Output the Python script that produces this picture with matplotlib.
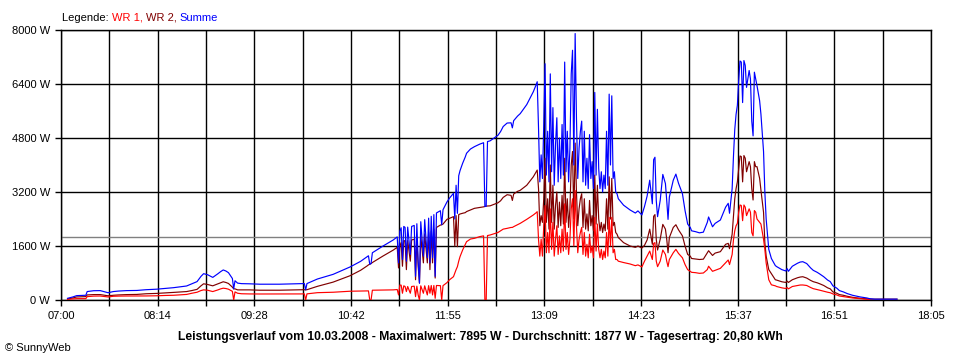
import numpy as np
import matplotlib
matplotlib.use("Agg")
import matplotlib.pyplot as plt

plt.rcParams['font.family'] = ['Liberation Sans', 'DejaVu Sans']
plt.rcParams['font.size'] = 8

nan = np.nan

# Messzeitpunkte und Leistung der beiden Wechselrichter (W)
zeit = [
    "07:05", "07:09", "07:12", "07:19", "07:20", "07:25", "07:30", "07:36", "07:40", "07:44",
    "07:50", "07:58", "08:05", "08:13", "08:20", "08:26", "08:36", "08:40", "08:44", "08:47",
    "08:49", "08:52", "08:56", "09:00", "09:02", "09:04", "09:06", "09:08", "09:11", "09:12",
    "09:13", "09:15", "09:18", "09:24", "09:32", "09:47", "10:03", "10:06", "10:07", "10:08",
    "10:16", "10:28", "10:41", "10:49", "10:54", "10:55", "10:56", "10:57", "10:58", "11:06",
    "11:14", "11:17", "11:18", "11:19", "11:20", "11:21", "11:22", "11:23", "11:24", "11:25",
    "11:27", "11:28", "11:30", "11:31", "11:32", "11:33", "11:34", "11:35", "11:37", "11:38",
    "11:40", "11:41", "11:42", "11:43", "11:44", "11:45", "11:46", "11:47", "11:50", "11:51",
    "11:52", "11:55", "11:57", "12:00", "12:01", "12:02", "12:03", "12:04", "12:05", "12:07",
    "12:09", "12:10", "12:13", "12:16", "12:20", "12:23", "12:24", "12:25", "12:26", "12:28",
    "12:32", "12:34", "12:36", "12:38", "12:41", "12:44", "12:45", "12:46", "12:49", "12:51",
    "12:56", "13:01", "13:03", "13:04",
    "13:05", "13:06", "13:07", "13:08", "13:09", "13:10", "13:11", "13:12", "13:13", "13:14",
    "13:15", "13:16", "13:17", "13:18", "13:19", "13:20", "13:21", "13:22", "13:23", "13:24",
    "13:25", "13:26", "13:27", "13:28", "13:29", "13:30", "13:31", "13:32", "13:33", "13:34",
    "13:35", "13:36", "13:37", "13:38", "13:39", "13:40", "13:41", "13:42", "13:43", "13:44",
    "13:45", "13:46", "13:47", "13:48", "13:49", "13:50", "13:51", "13:52", "13:53", "13:54",
    "13:55", "13:56", "13:57", "13:58", "13:59", "14:00", "14:01", "14:02", "14:03", "14:04",
    "14:05", "14:06",
    "14:10", "14:15", "14:19", "14:21", "14:24", "14:26", "14:28", "14:30", "14:32", "14:33",
    "14:34", "14:35", "14:36", "14:38", "14:40", "14:42", "14:43", "14:44", "14:45", "14:48",
    "14:50", "14:52", "14:55", "14:57", "14:59", "15:01", "15:02", "15:05", "15:08", "15:11",
    "15:14", "15:15", "15:18", "15:20", "15:24", "15:28", "15:30", "15:31", "15:33", "15:34",
    "15:35", "15:36", "15:37", "15:38", "15:39", "15:40", "15:41", "15:42", "15:43", "15:44",
    "15:46", "15:47", "15:48", "15:49", "15:50", "15:51", "15:52", "15:54", "15:55", "15:57",
    "15:58", "15:59", "16:01", "16:03", "16:06", "16:07", "16:11", "16:14", "16:15", "16:16",
    "16:19", "16:23", "16:25", "16:27", "16:30", "16:33", "16:35", "16:38", "16:40", "16:43",
    "16:46", "16:48", "16:50", "16:53", "16:55", "16:58", "17:01", "17:05", "17:11", "17:16",
    "17:18", "17:22", "17:39",
]

wr1 = [
    20, 30, 40, 40, 100, 115, 118, 90, 110, 115,
    118, 118, 120, 125, 135, 140, 165, 200, 230, 280,
    300, 290, 250, 300, 330, 350, 340, 320, 257, 0,
    240, 200, 185, 180, 178, 178, 180, 182, 0, 182,
    217, 230, 260, 265, 270, 270, 0, 0, 290, 296,
    300, 310, 150, 444, 440, 200, 420, 400, 250, 400,
    200, 400, 410, 100, 410, 150, 0, 420, 200, 420,
    150, 425, 200, 430, 150, 430, 50, 430, 425, 0,
    425, 514, 600, 691, 800, 900, 988, 1150, 1284, 1481,
    1650, 1728, 1807, 1827, 1877, 1900, 0, 0, 1910, 1926,
    1975, 2000, 2050, 2100, 2123, 2150, 2150, 2173, 2230, 2271,
    2390, 2519, 2580, 2617,
    1800, 1300, 1800, 1300, 2200, 2800, 1400, 2000, 1400, 2700,
    1500, 2300, 1300, 1800, 2200, 1350, 1900, 1400, 2100, 1450,
    2850, 1500, 2000, 1350, 1800, 2700, 3000, 1600, 3245, 2200,
    1400, 1800, 2000, 2150, 1350, 2000, 1300, 1650, 1250, 1950,
    1400, 1600, 1250, 2450, 1450, 2250, 1500, 1250, 1500, 1200,
    1450, 1250, 2000, 1300, 2450, 1600, 2450, 1400, 1500, 1200,
    1200, 1150,
    1110, 1067, 1017, 1040, 980, 1150, 1300, 1450, 1200, 1679,
    1700, 1150, 988, 1150, 1481, 1350, 1150, 988, 1200, 1400,
    1500, 1380, 1250, 1050, 900, 850, 820, 810, 790, 800,
    900, 1000, 850, 880, 938, 1100, 1185, 1050, 1350, 1778,
    2050, 2200, 2271, 2600, 2815, 2800, 2350, 2815, 2750, 2500,
    2700, 2600, 2000, 1900, 2650, 2600, 2400, 2300, 2250, 1800,
    1500, 1100, 600, 450, 420, 400, 360, 340, 370, 330,
    400, 430, 444, 445, 430, 370, 336, 310, 290, 260,
    230, 215, 180, 150, 118, 100, 80, 60, 40, 25,
    15, nan, nan,
]

wr2 = [
    30, 60, 90, 100, 150, 160, 160, 125, 140, 150,
    160, 165, 185, 195, 210, 225, 250, 280, 315, 420,
    480, 460, 420, 480, 510, 540, 520, 490, 380, 330,
    330, 300, 300, 300, 290, 290, 305, 305, 300, 305,
    405, 530, 720, 880, 1010, 1040, 1060, 1080, 1110, 1300,
    1480, 1560, 950, 1600, 1700, 1000, 1760, 1750, 900, 1760,
    1150, 1780, 1800, 600, 1850, 1000, 500, 1900, 1100, 1960,
    1100, 2000, 900, 2050, 1100, 2100, 650, 2150, 2220, 2230,
    2250, 2390, 2420, 2470, 1600, 2500, 1580, 2530, 2548, 2570,
    2588, 2620, 2667, 2716, 2740, 2760, 2770, 2780, 2785, 2790,
    2850, 2880, 2940, 3040, 3120, 3100, 2950, 3140, 3220, 3250,
    3400, 3650, 3780, 3850,
    3300, 2200, 2500, 2300, 3000, 4200, 2300, 3000, 2100, 4000,
    2300, 3400, 2100, 2800, 3200, 2150, 2900, 2200, 3100, 2250,
    4200, 2300, 3000, 2150, 2700, 4000, 4400, 2400, 4650, 3200,
    2200, 2700, 3000, 3150, 2150, 3000, 2100, 2550, 2050, 2950,
    2200, 2500, 2050, 3700, 2250, 3400, 2400, 2050, 2300, 2000,
    2250, 2050, 3000, 2100, 3650, 2400, 3600, 2200, 2300, 2000,
    1950, 1850,
    1700, 1600, 1560, 1600, 1540, 1620, 1778, 2100, 1650, 2480,
    2530, 1800, 1481, 1800, 2240, 2100, 1800, 1400, 1850, 2150,
    2230, 2080, 1900, 1600, 1350, 1300, 1230, 1215, 1200, 1210,
    1400, 1460, 1320, 1390, 1432, 1650, 1679, 1520, 1950, 2470,
    3000, 3300, 3500, 3900, 4267, 4250, 3500, 4280, 4200, 3800,
    4100, 3950, 3300, 2963, 4100, 3950, 3950, 3605, 3259, 2600,
    1700, 1300, 900, 780, 600, 590, 540, 520, 560, 520,
    600, 660, 680, 690, 650, 580, 543, 510, 480, 430,
    360, 330, 240, 200, 160, 140, 110, 80, 50, 35,
    25, 25, 25,
]

x_ticklabels = ["07:00", "", "08:14", "", "09:28", "", "10:42", "", "11:55", "",
                "13:09", "", "14:23", "", "15:37", "", "16:51", "", "18:05"]
y_ticks = [0, 1600, 3200, 4800, 6400, 8000]
durchschnitt = 1877
titel = ("Leistungsverlauf vom 10.03.2008 - Maximalwert: 7895 W - "
         "Durchschnitt: 1877 W - Tagesertrag: 20,80 kWh")

minuten = np.array([int(z[:2]) * 60 + int(z[3:]) for z in zeit])
wr1 = np.array(wr1, dtype=float)
wr2 = np.array(wr2, dtype=float)
summe = np.where(np.isnan(wr1) & np.isnan(wr2), np.nan,
                 np.nan_to_num(wr1) + np.nan_to_num(wr2))

fig = plt.figure(figsize=(9.6, 3.6), dpi=100)
ax = fig.add_axes([61 / 960, 60 / 360, 870 / 960, 270 / 360])

ax.plot(minuten, wr2, color='#800000', lw=0.85, zorder=3)
ax.plot(minuten, wr1, color='#ff0000', lw=0.85, zorder=4)
ax.plot(minuten, summe, color='#0000ff', lw=0.85, zorder=5)
ax.axhline(durchschnitt, color='#808080', lw=1, zorder=1)

ax.set_xlim(420, 1085)
ax.set_ylim(0, 8000)
ax.set_xticks(np.linspace(420, 1085, 19))
ax.set_xticklabels(x_ticklabels)
ax.set_yticks(y_ticks)
ax.set_yticklabels([f"{v} W" for v in y_ticks])
ax.grid(True, color='black', lw=1, zorder=2)
ax.set_axisbelow(True)
ax.tick_params(direction='out', length=4.3, width=1, color='black', pad=3.5,
               labelsize=8)
for s in ax.spines.values():
    s.set_linewidth(1)
    s.set_color('black')

# Legende oben links
t0 = fig.text(62 / 960, 1 - 21 / 360, "Legende: ", color='black', fontsize=8)
t1 = ax.annotate("WR 1, ", xy=(1, 0), xycoords=t0, va='bottom', color='#ff0000',
                 fontsize=8, annotation_clip=False)
t2 = ax.annotate("WR 2, ", xy=(1, 0), xycoords=t1, va='bottom', color='#800000',
                 fontsize=8, annotation_clip=False)
ax.annotate("Summe", xy=(1, 0), xycoords=t2, va='bottom', color='#0000ff',
            fontsize=8, annotation_clip=False)

fig.text(0.5, 1 - 337 / 360, titel, ha='center', va='center',
         fontweight='bold', fontsize=8.7)
fig.text(5 / 960, 1 - 348 / 360, "\u00a9 SunnyWeb", va='center', fontsize=8)

fig.savefig("out.png", dpi=100)
